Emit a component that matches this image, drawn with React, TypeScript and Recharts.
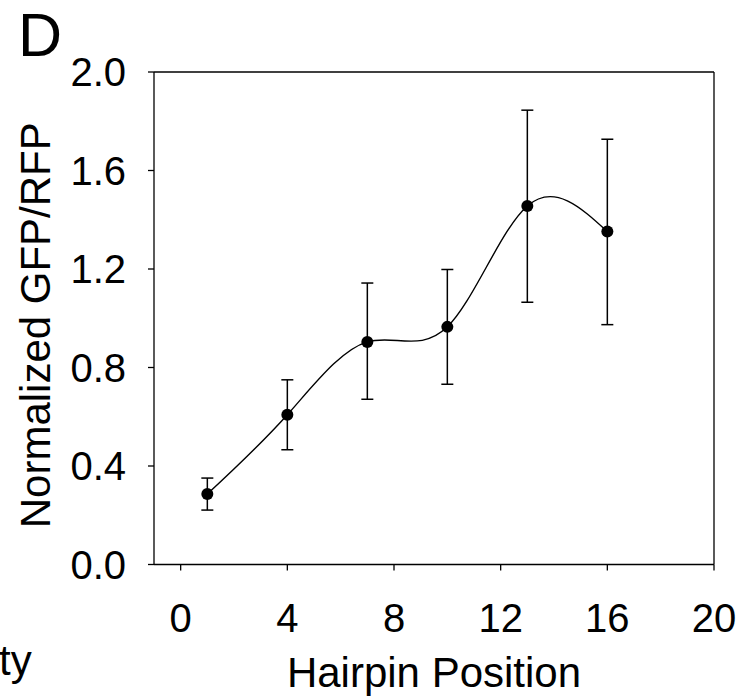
import React from "react";
import { LineChart, Line, XAxis, YAxis, ErrorBar, ReferenceLine, Label } from "recharts";

const hairpinPositions = [1, 4, 7, 10, 13, 16];
const gfpRfpMeans = [0.286, 0.608, 0.904, 0.965, 1.456, 1.352];
const gfpRfpLower = [0.221, 0.466, 0.671, 0.732, 1.065, 0.974];
const gfpRfpUpper = [0.351, 0.75, 1.143, 1.198, 1.845, 1.727];
const xTicks = [0, 4, 8, 12, 16, 20];
const yTicks = [0, 0.4, 0.8, 1.2, 1.6, 2.0];

const data = hairpinPositions.map((pos, i) => ({
  pos,
  ratio: gfpRfpMeans[i],
  err: [gfpRfpMeans[i] - gfpRfpLower[i], gfpRfpUpper[i] - gfpRfpMeans[i]],
}));

const FONT = "'Liberation Sans', Arial, sans-serif";

function YTitle(props: any) {
  const { x, y, height } = props.viewBox;
  const cx = x + 50;
  const cy = y + height / 2 + 7;
  return (
    <text x={cx} y={cy} transform={`rotate(-90, ${cx}, ${cy})`} textAnchor="middle" fontSize={42} fontFamily={FONT} fill="#000">
      Normalized GFP/RFP
    </text>
  );
}

function XTitle(props: any) {
  const { x, y, width } = props.viewBox;
  return (
    <text x={x + width / 2} y={y + 122} textAnchor="middle" fontSize={42} fontFamily={FONT} fill="#000">
      Hairpin Position
    </text>
  );
}

export default function App() {
  return (
    <div style={{ position: "absolute", left: 0, top: 0, width: 740, height: 696, background: "#fff" }}>
      <LineChart width={740} height={696} data={data} margin={{ top: 72, right: 26, bottom: 0, left: 0 }}>
        <ReferenceLine y={2} stroke="#000" strokeWidth={1.3} />
        <ReferenceLine x={20} stroke="#000" strokeWidth={1.3} />
        <XAxis
          dataKey="pos"
          type="number"
          domain={[-1, 20]}
          ticks={xTicks}
          height={131.5}
          tickSize={6}
          tickMargin={33}
          stroke="#000"
          strokeWidth={1.3}
          tick={{ fill: "#000", fontSize: 40, fontFamily: FONT }}
        >
          <Label content={XTitle} />
        </XAxis>
        <YAxis
          type="number"
          domain={[0, 2]}
          ticks={yTicks}
          width={154}
          tickSize={6}
          tickMargin={22}
          stroke="#000"
          strokeWidth={1.3}
          tickFormatter={(v) => Number(v).toFixed(1)}
          tick={{ fill: "#000", fontSize: 40, fontFamily: FONT }}
        >
          <Label content={YTitle} />
        </YAxis>
        <Line
          type="natural"
          dataKey="ratio"
          stroke="#000"
          strokeWidth={1.4}
          dot={{ r: 6, fill: "#000", stroke: "#000", strokeWidth: 0 }}
          isAnimationActive={false}
        >
          <ErrorBar dataKey="err" direction="y" width={6} stroke="#000" strokeWidth={1.5} />
        </Line>
      </LineChart>
      <svg width={740} height={696} style={{ position: "absolute", left: 0, top: 0, pointerEvents: "none" }}>
        <text x={18} y={56} fontSize={61} fontFamily={FONT} fill="#000">D</text>
        <text x={-1} y={675} fontSize={42} fontFamily={FONT} fill="#000">ty</text>
      </svg>
    </div>
  );
}
